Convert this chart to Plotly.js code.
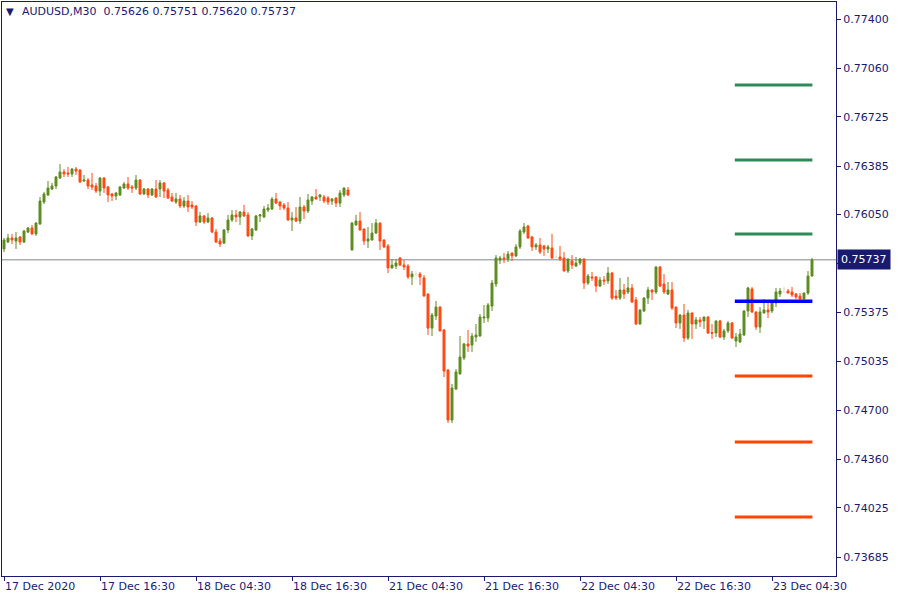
<!DOCTYPE html>
<html><head><meta charset="utf-8">
<script src="https://cdn.plot.ly/plotly-3.0.1.min.js"></script>
<style>html,body{margin:0;padding:0;background:#fff}#chart{width:900px;height:600px}</style>
</head><body><div id="chart"></div>
<script>
const symbol = "AUDUSD,M30";
const open = [0.75812,0.75860,0.75888,0.75867,0.75895,0.75860,0.75929,0.75957,0.75916,0.75985,
0.76136,0.76185,0.76226,0.76247,0.76302,0.76344,0.76337,0.76330,0.76364,0.76357,
0.76281,0.76288,0.76254,0.76247,0.76212,0.76302,0.76240,0.76192,0.76178,0.76185,
0.76233,0.76261,0.76240,0.76233,0.76288,0.76192,0.76226,0.76185,0.76226,0.76226,
0.76268,0.76219,0.76171,0.76136,0.76157,0.76109,0.76143,0.76116,0.76109,0.75998,
0.76040,0.75998,0.76026,0.75929,0.75867,0.75853,0.75943,0.76012,0.76047,0.76033,
0.76067,0.76047,0.75902,0.75943,0.76040,0.76033,0.76081,0.76088,0.76157,0.76136,
0.76116,0.76095,0.76012,0.76026,0.76005,0.76102,0.76074,0.76143,0.76171,0.76171,
0.76171,0.76164,0.76143,0.76164,0.76129,0.76185,0.76219,0.75805,0.75978,0.76005,
0.75950,0.75867,0.75874,0.75922,0.75991,0.75874,0.75833,0.75681,0.75694,0.75750,
0.75701,0.75694,0.75619,0.75639,0.75639,0.75612,0.75501,0.75266,0.75349,0.75411,
0.75253,0.74976,0.74631,0.74845,0.74949,0.75059,0.75156,0.75149,0.75204,0.75211,
0.75335,0.75335,0.75418,0.75570,0.75736,0.75750,0.75743,0.75784,0.75764,0.75826,
0.75929,0.75971,0.75895,0.75826,0.75840,0.75833,0.75812,0.75819,0.75757,0.75757,
0.75750,0.75660,0.75729,0.75694,0.75715,0.75743,0.75577,0.75619,0.75619,0.75556,
0.75598,0.75591,0.75646,0.75487,0.75473,0.75529,0.75515,0.75543,0.75460,0.75294,
0.75384,0.75473,0.75529,0.75515,0.75688,0.75570,0.75501,0.75529,0.75411,0.75301,
0.75356,0.75197,0.75370,0.75294,0.75322,0.75315,0.75342,0.75235,0.75232,0.75315,
0.75204,0.75246,0.75301,0.75177,0.75170,0.75218,0.75384,0.75536,0.75377,0.75273,
0.75370,0.75391,0.75384,0.75439,0.75501,0.75536,0.75522,0.75515,0.75501,0.75487,
0.75467,0.75508,0.75626];
const high = [0.75888,0.75916,0.75916,0.75929,0.75902,0.75943,0.75964,0.75978,0.75998,0.76171,
0.76206,0.76281,0.76268,0.76316,0.76399,0.76364,0.76378,0.76371,0.76378,0.76364,
0.76323,0.76302,0.76337,0.76268,0.76309,0.76309,0.76247,0.76199,0.76206,0.76247,
0.76274,0.76309,0.76254,0.76323,0.76295,0.76233,0.76233,0.76233,0.76288,0.76288,
0.76274,0.76233,0.76199,0.76199,0.76185,0.76171,0.76185,0.76143,0.76116,0.76067,
0.76047,0.76060,0.76033,0.75950,0.75888,0.75950,0.76047,0.76081,0.76081,0.76074,
0.76116,0.76067,0.75957,0.76047,0.76054,0.76109,0.76123,0.76171,0.76199,0.76143,
0.76129,0.76136,0.76067,0.76102,0.76171,0.76116,0.76192,0.76178,0.76226,0.76192,
0.76185,0.76178,0.76164,0.76168,0.76219,0.76236,0.76240,0.75998,0.76047,0.76067,
0.75953,0.75964,0.75991,0.76019,0.75995,0.75878,0.75846,0.75743,0.75743,0.75757,
0.75736,0.75708,0.75660,0.75660,0.75653,0.75632,0.75505,0.75370,0.75453,0.75418,
0.75260,0.74983,0.74880,0.74983,0.75211,0.75163,0.75253,0.75232,0.75294,0.75363,
0.75425,0.75439,0.75598,0.75770,0.75764,0.75784,0.75798,0.75787,0.75846,0.75950,
0.75991,0.75978,0.75902,0.75853,0.75888,0.75840,0.75840,0.75916,0.75805,0.75833,
0.75791,0.75746,0.75770,0.75757,0.75750,0.75746,0.75639,0.75653,0.75625,0.75619,
0.75625,0.75688,0.75653,0.75529,0.75612,0.75570,0.75619,0.75570,0.75480,0.75394,
0.75480,0.75550,0.75532,0.75691,0.75694,0.75639,0.75584,0.75584,0.75414,0.75363,
0.75432,0.75391,0.75373,0.75342,0.75342,0.75346,0.75349,0.75294,0.75318,0.75322,
0.75260,0.75315,0.75308,0.75232,0.75260,0.75387,0.75550,0.75550,0.75380,0.75411,
0.75467,0.75446,0.75446,0.75543,0.75543,0.75556,0.75536,0.75550,0.75508,0.75508,
0.75511,0.75660,0.75751];
const low = [0.75791,0.75853,0.75846,0.75812,0.75840,0.75853,0.75922,0.75909,0.75902,0.75978,
0.76123,0.76178,0.76219,0.76226,0.76295,0.76309,0.76309,0.76309,0.76323,0.76268,
0.76274,0.76226,0.76219,0.76199,0.76178,0.76199,0.76136,0.76143,0.76150,0.76178,
0.76226,0.76219,0.76199,0.76219,0.76185,0.76185,0.76164,0.76178,0.76164,0.76171,
0.76164,0.76157,0.76136,0.76123,0.76095,0.76095,0.76067,0.76088,0.75971,0.75991,
0.75985,0.75991,0.75922,0.75853,0.75826,0.75846,0.75922,0.75998,0.75998,0.75978,
0.76033,0.75895,0.75874,0.75936,0.75998,0.76026,0.76067,0.76081,0.76123,0.76081,
0.76081,0.76009,0.75936,0.75998,0.75985,0.76019,0.76060,0.76116,0.76154,0.76143,
0.76129,0.76116,0.76116,0.76102,0.76102,0.76171,0.76178,0.75802,0.75974,0.75940,
0.75840,0.75819,0.75871,0.75916,0.75805,0.75819,0.75646,0.75677,0.75674,0.75694,
0.75667,0.75605,0.75563,0.75598,0.75563,0.75484,0.75218,0.75211,0.75322,0.75242,
0.74928,0.74610,0.74610,0.74838,0.74946,0.75045,0.75101,0.75101,0.75170,0.75208,
0.75301,0.75308,0.75384,0.75549,0.75708,0.75715,0.75722,0.75729,0.75757,0.75812,
0.75916,0.75881,0.75798,0.75805,0.75777,0.75764,0.75784,0.75743,0.75743,0.75729,
0.75656,0.75646,0.75674,0.75688,0.75701,0.75536,0.75563,0.75591,0.75515,0.75549,
0.75563,0.75570,0.75460,0.75460,0.75460,0.75467,0.75501,0.75439,0.75287,0.75291,
0.75377,0.75432,0.75460,0.75501,0.75549,0.75501,0.75494,0.75391,0.75266,0.75260,
0.75170,0.75184,0.75191,0.75260,0.75273,0.75260,0.75225,0.75191,0.75204,0.75197,
0.75184,0.75232,0.75191,0.75135,0.75163,0.75211,0.75342,0.75370,0.75253,0.75232,
0.75367,0.75335,0.75370,0.75411,0.75480,0.75506,0.75505,0.75480,0.75467,0.75463,
0.75463,0.75494,0.75620];
const close = [0.75874,0.75888,0.75874,0.75888,0.75860,0.75936,0.75957,0.75916,0.75991,0.76143,
0.76192,0.76233,0.76247,0.76309,0.76344,0.76330,0.76330,0.76364,0.76350,0.76274,
0.76288,0.76247,0.76240,0.76212,0.76302,0.76233,0.76185,0.76178,0.76199,0.76240,
0.76261,0.76233,0.76233,0.76288,0.76192,0.76226,0.76185,0.76226,0.76171,0.76268,
0.76212,0.76164,0.76143,0.76157,0.76109,0.76143,0.76102,0.76102,0.75998,0.76040,
0.75998,0.76026,0.75929,0.75860,0.75846,0.75943,0.76012,0.76047,0.76033,0.76067,
0.76040,0.75902,0.75950,0.76040,0.76047,0.76088,0.76095,0.76157,0.76129,0.76109,
0.76095,0.76012,0.76026,0.76005,0.76102,0.76074,0.76150,0.76171,0.76157,0.76185,
0.76143,0.76136,0.76157,0.76129,0.76199,0.76233,0.76185,0.75991,0.76005,0.75943,
0.75867,0.75881,0.75922,0.75991,0.75867,0.75826,0.75681,0.75701,0.75715,0.75701,
0.75688,0.75619,0.75639,0.75639,0.75619,0.75487,0.75266,0.75356,0.75411,0.75246,
0.74969,0.74631,0.74852,0.74963,0.75066,0.75156,0.75142,0.75211,0.75218,0.75342,
0.75342,0.75425,0.75577,0.75750,0.75750,0.75743,0.75777,0.75764,0.75826,0.75936,
0.75964,0.75888,0.75826,0.75840,0.75791,0.75812,0.75826,0.75750,0.75757,0.75743,
0.75660,0.75743,0.75701,0.75715,0.75743,0.75577,0.75625,0.75612,0.75556,0.75598,
0.75591,0.75646,0.75473,0.75473,0.75529,0.75501,0.75543,0.75446,0.75294,0.75391,
0.75473,0.75529,0.75515,0.75688,0.75556,0.75515,0.75529,0.75404,0.75301,0.75356,
0.75197,0.75370,0.75294,0.75322,0.75308,0.75342,0.75232,0.75230,0.75315,0.75204,
0.75246,0.75301,0.75197,0.75204,0.75225,0.75384,0.75543,0.75377,0.75273,0.75377,
0.75391,0.75377,0.75439,0.75515,0.75522,0.75536,0.75508,0.75494,0.75480,0.75467,
0.75508,0.75625,0.75737];

const tickIndex = [0,24,48,72,96,120,144,168,192];
const tickLabels = ["17 Dec 2020","17 Dec 16:30","18 Dec 04:30","18 Dec 16:30","21 Dec 04:30","21 Dec 16:30","22 Dec 04:30","22 Dec 16:30","23 Dec 04:30"];
const priceTicks = [0.77400,0.77060,0.76725,0.76385,0.76050,0.75710,0.75375,0.75035,0.74700,0.74360,0.74025,0.73685];
const resistanceLevels = [0.76944,0.76426,0.75915];
const pivotLevel = [0.75451];
const supportLevels = [0.74935,0.74479,0.73961];

const NAVY = "#191970";
const UP = "#5E8C22", DOWN = "#FF4A14", DOJI = "#f4dccd";
const FONT = "DejaVu Sans";
const last = close.length - 1;
const lastPrice = close[last];

const main = {x:[],open:[],high:[],low:[],close:[]};
const doji = {x:[],open:[],high:[],low:[],close:[]};
for (let i = 0; i < open.length; i++) {
  const t = open[i] === close[i] ? doji : main;
  t.x.push(i); t.open.push(open[i]); t.high.push(high[i]); t.low.push(low[i]); t.close.push(close[i]);
}
const traces = [
  Object.assign({type:'candlestick', hoverinfo:'skip', whiskerwidth:0,
    increasing:{line:{color:UP,width:1}, fillcolor:UP},
    decreasing:{line:{color:DOWN,width:1}, fillcolor:DOWN}}, main),
  Object.assign({type:'candlestick', hoverinfo:'skip', whiskerwidth:0,
    increasing:{line:{color:DOJI,width:1}, fillcolor:DOJI},
    decreasing:{line:{color:DOJI,width:1}, fillcolor:DOJI}}, doji)
];

const LV_START = 182.7, LV_END = 202.1;
const shapes = [
  {type:'line', xref:'paper', yref:'y', x0:0, x1:1, y0:lastPrice, y1:lastPrice, line:{color:'#7d8694', width:1}, layer:'below'}
];
resistanceLevels.forEach(v => shapes.push({type:'line', xref:'x', yref:'y', x0:LV_START, x1:LV_END, y0:v, y1:v, line:{color:'#2E8B57', width:3}}));
supportLevels.forEach(v => shapes.push({type:'line', xref:'x', yref:'y', x0:LV_START, x1:LV_END, y0:v, y1:v, line:{color:'#FF4500', width:3}}));
pivotLevel.forEach(v => shapes.push({type:'line', xref:'x', yref:'y', x0:LV_START, x1:LV_END, y0:v, y1:v, line:{color:'#0000FF', width:3.5}}));

const W = 834, H = 574;
const headText = symbol + "\u00a0\u00a0" + [open[last],high[last],low[last],close[last]].map(v=>v.toFixed(5)).join(" ");
const annotations = [
  {xref:'paper', yref:'paper', x:(4-2)/W, y:(576-12)/H, xanchor:'left', yanchor:'middle', showarrow:false,
   text:'\u25BC', font:{family:FONT, size:10, color:NAVY}},
  {xref:'paper', yref:'paper', x:(20-2)/W, y:(576-12)/H, xanchor:'left', yanchor:'middle', showarrow:false,
   text:headText, font:{family:FONT, size:11, color:NAVY}},
  {xref:'paper', yref:'y', x:1, y:lastPrice, xanchor:'left', yanchor:'middle', xshift:1, showarrow:false,
   text:lastPrice.toFixed(5), bgcolor:NAVY, borderpad:3, font:{family:FONT, size:11, color:'#ffffff'}}
];

const layout = {
  width:900, height:600, margin:{l:2, r:64, t:2, b:24},
  paper_bgcolor:'#ffffff', plot_bgcolor:'#ffffff',
  showlegend:false, hovermode:false, boxgap:0.3, dragmode:false,
  xaxis:{type:'linear', range:[-0.5, 208], rangeslider:{visible:false}, showgrid:false, zeroline:false,
    showline:true, mirror:true, linecolor:NAVY, linewidth:1, ticks:'outside', ticklen:4, tickcolor:NAVY,
    tickvals:tickIndex, ticktext:tickLabels, ticklabelposition:'outside right',
    tickfont:{family:FONT, size:11, color:NAVY}, fixedrange:true},
  yaxis:{side:'right', range:[0.735539, 0.775174], showgrid:false, zeroline:false,
    showline:true, mirror:true, linecolor:NAVY, linewidth:1, ticks:'outside', ticklen:4, tickcolor:NAVY,
    tickvals:priceTicks, ticktext:priceTicks.map(v=>v.toFixed(5)),
    tickfont:{family:FONT, size:11, color:NAVY}, fixedrange:true},
  shapes:shapes, annotations:annotations
};
Plotly.newPlot('chart', traces, layout, {staticPlot:true, displayModeBar:false});
</script>
</body></html>
